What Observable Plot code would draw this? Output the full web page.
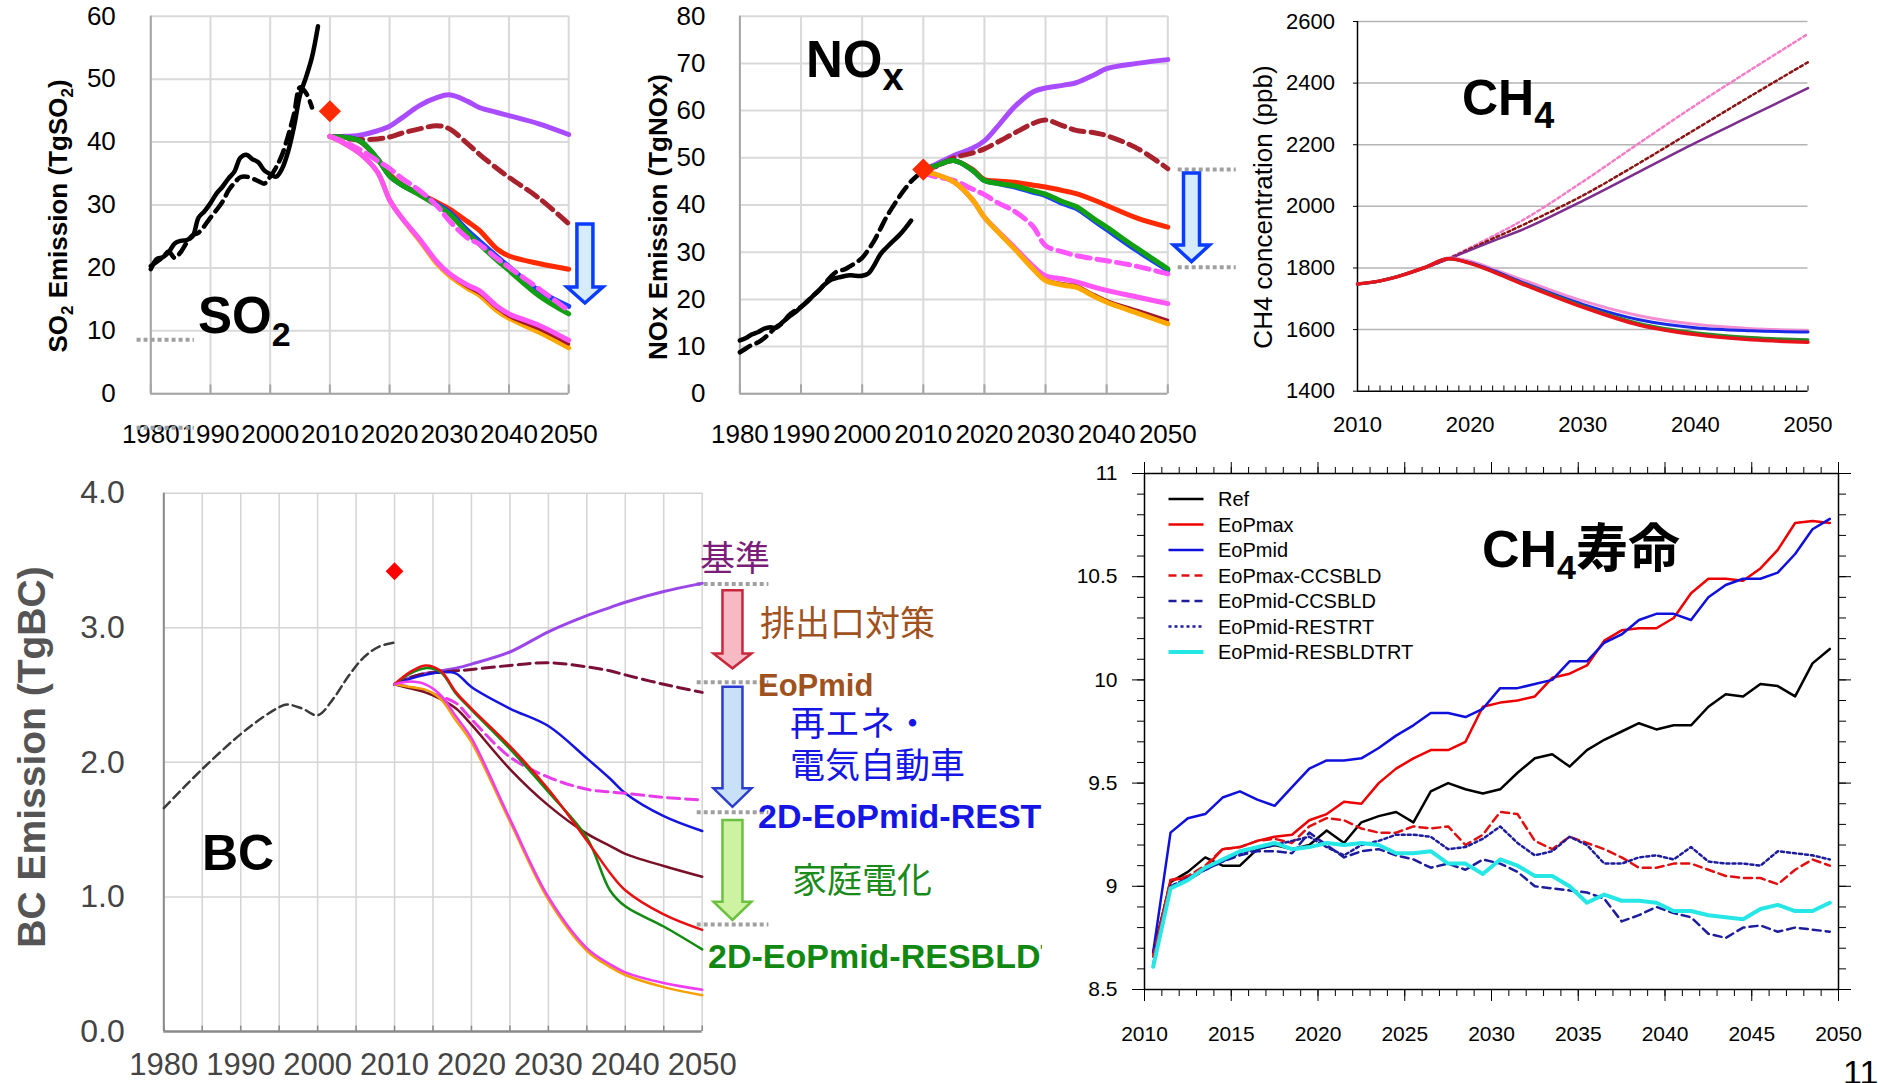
<!DOCTYPE html>
<html>
<head>
<meta charset="utf-8">
<script src="https://cdn.jsdelivr.net/npm/d3@7"></script>
<script src="https://cdn.jsdelivr.net/npm/@observablehq/plot@0.6"></script>
<style>
html,body{margin:0;padding:0;background:#fff;}
#root{position:relative;width:1878px;height:1083px;overflow:hidden;background:#fff;}
</style>
</head>
<body>
<div id="root"></div>
<script>
// ======================= DATA =======================
const decadeTicks = [1980, 1990, 2000, 2010, 2020, 2030, 2040, 2050];
const so2Ticks = [0, 10, 20, 30, 40, 50, 60];
const noxTicks = [0, 10, 20, 30, 40, 50, 60, 70, 80];
const futureYears = [2010, 2012, 2015, 2018, 2020, 2022, 2025, 2028, 2030, 2033, 2035, 2038, 2040, 2045, 2050];

// --- SO2 (TgSO2) ---
const so2HistYears = [1980,1981,1982,1983,1984,1985,1986,1987,1988,1989,1990,1991,1992,1993,1994,1995,1996,1997,1998,1999,2000,2001,2002,2003,2004,2005,2006,2007,2008];
const so2HistSolid = [19.8,21.4,21.7,22.5,23.9,24.3,24.4,25.0,28.0,29.0,30.3,31.8,32.9,34.2,35.3,37.5,38.0,37.3,36.8,35.5,34.9,34.5,35.8,38.5,42.5,47.5,50.3,53.5,58.4];
const so2HistDashYears = [1980,1982,1983,1984,1985,1986,1987,1988,1990,1992,1993,1994,1995,1996,1997,1998,1999,2000,2001,2002,2003,2004,2005,2006,2007];
const so2HistDash = [20.3,21.7,22.6,21.6,22.5,24.0,25.2,25.6,28.0,30.5,32.3,33.5,34.4,34.5,34.2,33.8,33.4,34.5,36.0,38.0,41.0,44.5,48.7,47.8,45.5];
const so2Inventory2010 = [44.9];
const so2Purple  = [40.9,40.9,41.1,41.8,42.5,43.8,45.8,47.1,47.5,46.5,45.5,44.7,44.2,42.9,41.2];
const so2EoPDash = [40.9,40.6,40.4,40.5,40.8,41.4,42.1,42.6,42.1,39.8,38.1,35.8,34.4,31.1,27.0];
const so2Red     = [40.9,40.8,40.1,37.3,34.9,33.3,31.8,30.4,29.4,27.4,26.0,23.0,21.9,20.7,19.8];
const so2Blue    = [40.9,40.8,40.2,37.3,34.6,33.2,31.7,30.1,28.9,26.0,24.3,21.8,20.2,16.4,13.9];
const so2Green   = [40.9,40.8,40.2,37.3,34.6,33.2,31.6,29.9,28.6,25.6,23.8,21.2,19.6,15.6,12.7];
const so2MagDash = [40.9,40.2,38.8,37.0,35.8,34.3,32.3,29.8,27.5,24.8,23.8,21.5,20.1,16.7,13.2];
const so2Orange  = [40.9,40.0,38.2,35.2,30.8,28.0,24.4,20.6,18.8,16.8,15.7,13.2,12.0,9.8,7.3];
const so2DarkRed = [40.9,40.0,38.2,35.2,30.8,28.0,24.5,20.8,19.0,17.0,16.0,13.6,12.3,10.3,7.9];
const so2Magenta = [40.9,40.0,38.2,35.2,30.8,28.0,24.6,20.9,19.1,17.3,16.4,13.9,12.7,10.9,8.5];
const so2GuideLevels = [8.6, -5.4];
const so2Arrow = {x: 2052.8, top: 26.9, head: 16.9, tip: 14.35};

// --- NOx (TgNOx) ---
const noxHistYears = [1980,1981,1982,1983,1984,1985,1986,1987,1988,1989,1990,1991,1992,1993,1994,1995,1996,1997,1998,1999,2000,2001,2002,2003,2004,2005,2006,2007,2008];
const noxHistSolid = [11.3,11.8,12.6,13.1,13.8,14.1,14.0,15.2,16.3,17.2,18.4,19.5,20.8,22.0,23.3,24.2,24.6,24.9,25.1,25.0,25.0,25.5,27.3,29.6,31.0,32.3,33.5,35.0,36.7];
const noxHistDashYears = [1980,1981,1982,1983,1984,1985,1986,1987,1988,1989,1990,1991,1992,1993,1994,1995,1996,1997,1998,1999,2000,2001,2002,2003,2004,2005,2006,2007,2008,2009];
const noxHistDash = [8.8,9.6,10.4,10.9,11.8,13.0,14.2,15.0,16.6,17.6,18.4,19.6,20.8,22.0,23.5,25.0,26.0,26.3,27.0,27.8,28.8,30.5,32.5,35.0,37.5,39.6,41.6,43.4,45.0,46.2];
const noxInventory2010 = [47.5];
const noxPurple  = [47.5,48.6,50.5,52.0,53.6,56.4,60.9,64.0,64.8,65.4,65.9,67.6,68.9,70.0,70.8];
const noxEoPDash = [47.5,48.1,50.0,51.0,51.9,53.2,55.3,57.3,58.0,56.7,55.8,55.3,54.7,52.0,47.7];
const noxRed     = [47.5,48.3,49.4,47.6,45.4,45.1,44.8,44.2,43.8,43.0,42.4,41.0,39.9,37.2,35.3];
const noxBlue    = [47.5,48.3,49.4,47.4,45.2,44.6,43.8,42.7,42.0,40.2,39.3,36.6,34.8,30.3,26.2];
const noxGreen   = [47.5,48.3,49.4,47.4,45.2,44.6,44.0,43.0,42.3,40.6,39.7,37.0,35.3,30.8,26.5];
const noxMagDash = [46.8,46.0,45.2,43.4,42.2,40.6,38.6,35.4,31.4,30.0,29.3,28.6,28.2,27.0,25.4];
const noxMagenta = [47.0,46.5,44.9,41.2,37.4,34.7,30.9,27.0,25.0,24.3,23.7,22.6,21.9,20.5,19.1];
const noxDarkRed = [47.0,46.5,44.9,41.2,37.4,34.6,30.6,26.5,24.2,23.3,22.9,21.0,19.8,17.7,15.6];
const noxOrange  = [47.0,46.5,44.9,41.2,37.4,34.6,30.6,26.4,24.0,23.0,22.6,20.6,19.4,17.1,14.8];
const noxGuideLevels = [47.5, 26.8];
const noxArrow = {x: 2053.96, top: 46.67, head: 31.4, tip: 27.9};

// --- CH4 concentration (ppb) ---
const ch4Ticks = [1400, 1600, 1800, 2000, 2200, 2400, 2600];
const ch4XTicks = [2010, 2020, 2030, 2040, 2050];
const ch4Years = [2010, 2012, 2014, 2016, 2018, 2020, 2022, 2025, 2030, 2035, 2040, 2045, 2050];
const ch4Purple = [1748,1758,1777,1800,1828,1858,1887,1930,2018,2112,2206,2295,2384];
const ch4Red    = [1748,1758,1777,1802,1830,1815,1788,1743,1673,1615,1584,1567,1559];
const ch4Green  = [1748,1758,1777,1802,1830,1815,1789,1745,1676,1620,1590,1574,1567];
const ch4Blue   = [1748,1758,1777,1802,1830,1817,1792,1748,1682,1632,1606,1596,1592];
const ch4Pink   = [1748,1758,1777,1802,1832,1822,1797,1757,1693,1645,1617,1603,1597];
const ch4DotYears = [2016, 2018, 2020, 2022, 2025, 2030, 2035, 2040, 2045, 2050];
const ch4PinkDot  = [1800,1830,1866,1903,1962,2080,2205,2328,2445,2560];
const ch4BrownDot = [1800,1829,1862,1895,1945,2035,2140,2250,2360,2468];

// --- BC (TgBC) ---
const bcTicks = [0, 1, 2, 3, 4];
const bcGridYears = [1980,1985,1990,1995,2000,2005,2010,2015,2020,2025,2030,2035,2040,2045,2050];
const bcHistYears = [1980,1985,1990,1993,1995,1996,1998,2000,2002,2004,2006,2008,2010];
const bcHist = [1.66,1.95,2.21,2.34,2.41,2.43,2.40,2.35,2.47,2.64,2.78,2.86,2.89];
const bcInventory2010 = [3.42];
const bcYears = [2010,2012,2014,2016,2018,2020,2025,2030,2035,2038,2040,2045,2050];
const bcPurple  = [2.58,2.63,2.66,2.68,2.70,2.73,2.82,2.97,3.09,3.15,3.19,3.27,3.33];
const bcEoPDash = [2.58,2.63,2.66,2.67,2.68,2.69,2.72,2.74,2.71,2.68,2.65,2.58,2.52];
const bcBlue    = [2.58,2.62,2.65,2.67,2.66,2.56,2.40,2.27,2.03,1.88,1.77,1.60,1.49];
const bcMagDash = [2.58,2.56,2.53,2.49,2.44,2.32,2.04,1.89,1.80,1.78,1.77,1.74,1.72];
const bcDarkRed = [2.58,2.55,2.52,2.47,2.40,2.28,1.95,1.68,1.47,1.38,1.32,1.23,1.15];
const bcRed     = [2.58,2.67,2.72,2.68,2.52,2.40,2.12,1.80,1.42,1.18,1.05,0.87,0.755];
const bcGreen   = [2.58,2.66,2.70,2.67,2.51,2.39,2.10,1.78,1.44,1.05,0.93,0.78,0.61];
const bcOrange  = [2.58,2.56,2.54,2.47,2.31,2.15,1.56,0.98,0.60,0.48,0.42,0.33,0.27];
const bcMagenta = [2.58,2.60,2.58,2.50,2.34,2.18,1.58,1.00,0.62,0.50,0.44,0.36,0.31];
const bcGuideLevels = [3.326, 2.595, 1.629, 0.795];
const bcArrows = [
  {x: 2054, top: 3.276, head: 2.806, tip: 2.695, key: "pink"},
  {x: 2054, top: 2.558, head: 1.803, tip: 1.666, key: "blue"},
  {x: 2054, top: 1.568, head: 0.961, tip: 0.825, key: "green"}
];

// --- CH4 lifetime (years) ---
const ltXTicks = [2010, 2015, 2020, 2025, 2030, 2035, 2040, 2045, 2050];
const ltYTicks = [8.5, 9, 9.5, 10, 10.5, 11];
const ltYears = d3.range(40).map(i => 2010.5 + i);
const ltNames = ["Ref", "EoPmax", "EoPmid", "EoPmax-CCSBLD", "EoPmid-CCSBLD", "EoPmid-RESTRT", "EoPmid-RESBLDTRT"];
const ltRef = [8.68,9.02,9.07,9.14,9.10,9.10,9.18,9.20,9.18,9.20,9.27,9.21,9.31,9.34,9.36,9.31,9.46,9.50,9.47,9.45,9.47,9.55,9.62,9.64,9.58,9.66,9.71,9.75,9.79,9.76,9.78,9.78,9.87,9.93,9.92,9.98,9.97,9.92,10.08,10.15];
const ltEoPmax = [8.66,9.03,9.04,9.09,9.18,9.19,9.22,9.24,9.25,9.32,9.35,9.41,9.40,9.50,9.57,9.62,9.66,9.66,9.70,9.87,9.89,9.90,9.92,10.01,10.03,10.07,10.19,10.24,10.25,10.25,10.30,10.42,10.49,10.49,10.48,10.54,10.63,10.76,10.77,10.76];
const ltEoPmid = [8.68,9.26,9.33,9.35,9.43,9.46,9.42,9.39,9.48,9.57,9.61,9.61,9.62,9.67,9.73,9.78,9.84,9.84,9.82,9.86,9.96,9.96,9.98,10.00,10.09,10.09,10.18,10.22,10.29,10.32,10.32,10.29,10.40,10.46,10.49,10.49,10.52,10.61,10.73,10.78];
const ltEoPmaxCCS = [8.66,9.03,9.05,9.10,9.18,9.19,9.22,9.23,9.21,9.29,9.33,9.32,9.28,9.26,9.26,9.29,9.28,9.29,9.20,9.25,9.36,9.35,9.22,9.18,9.24,9.21,9.18,9.14,9.09,9.09,9.11,9.11,9.08,9.05,9.04,9.04,9.01,9.08,9.13,9.10];
const ltEoPmidCCS = [8.62,9.00,9.03,9.08,9.12,9.15,9.17,9.17,9.16,9.26,9.20,9.14,9.17,9.18,9.15,9.13,9.09,9.11,9.08,9.13,9.11,9.07,9.00,8.99,8.98,8.97,8.94,8.83,8.86,8.90,8.87,8.85,8.77,8.75,8.80,8.81,8.78,8.80,8.79,8.78];
const ltEoPmidRES = [8.62,9.00,9.04,9.08,9.12,9.16,9.18,9.20,9.22,9.24,9.19,9.15,9.20,9.22,9.25,9.25,9.24,9.18,9.19,9.23,9.29,9.21,9.15,9.17,9.24,9.20,9.11,9.11,9.14,9.15,9.13,9.19,9.12,9.11,9.11,9.10,9.17,9.16,9.15,9.13];
const ltEoPmidRESBLD = [8.61,8.99,9.03,9.09,9.13,9.17,9.19,9.21,9.18,9.19,9.21,9.20,9.21,9.20,9.16,9.16,9.17,9.11,9.11,9.06,9.13,9.10,9.05,9.05,9.00,8.92,8.96,8.93,8.93,8.92,8.88,8.88,8.86,8.85,8.84,8.89,8.91,8.88,8.88,8.92];
const ltSeriesValues = [ltRef, ltEoPmax, ltEoPmid, ltEoPmaxCCS, ltEoPmidCCS, ltEoPmidRES, ltEoPmidRESBLD];

// ======================= STYLES =======================
const FONT = "'Liberation Sans', Arial, sans-serif";
const CJK = "'Noto Sans CJK JP', 'Noto Sans CJK SC', sans-serif";
const emis = {
  histSolid: {c: "#000", w: 4.5},
  histDash: {c: "#000", w: 4.5, d: "12,7"},
  purple: {c: "#a94cff", w: 5},
  eopDash: {c: "#a8222e", w: 5, d: "13,7"},
  red: {c: "#ff2a00", w: 5},
  blue: {c: "#1a40ff", w: 5},
  green: {c: "#12a012", w: 5},
  magDash: {c: "#ff55ff", w: 5, d: "13,7"},
  darkRed: {c: "#a01830", w: 3},
  orange: {c: "#ffa800", w: 5},
  magenta: {c: "#ff55f5", w: 5}
};
const ch4S = {
  purple: {c: "#7d2d8c", w: 2.5},
  pinkDot: {c: "#f27ec8", w: 2.5, d: "3,3"},
  brownDot: {c: "#8a1414", w: 2.5, d: "3,3"},
  red: {c: "#e8141c", w: 3.5},
  green: {c: "#2a8a2a", w: 3},
  blue: {c: "#1a2ae6", w: 3},
  pink: {c: "#f28fd2", w: 3}
};
const bcS = {
  hist: {c: "#3a3a3a", w: 2.5, d: "9,5"},
  purple: {c: "#9a46e8", w: 3},
  eopDash: {c: "#7a1038", w: 3, d: "12,6"},
  blue: {c: "#1414e0", w: 2.5},
  magDash: {c: "#e83ce8", w: 3, d: "12,6"},
  darkRed: {c: "#7a1026", w: 2.5},
  red: {c: "#e81010", w: 2.5},
  green: {c: "#108a10", w: 2.5},
  orange: {c: "#f5a000", w: 2.5},
  magenta: {c: "#f03cf0", w: 2.5}
};
const ltS = [
  {c: "#000000", w: 2.5},
  {c: "#ee0000", w: 2.5},
  {c: "#1010dd", w: 2.5},
  {c: "#e01010", w: 2.5, d: "8,5"},
  {c: "#1c1c9c", w: 2.5, d: "8,5"},
  {c: "#1c1c9c", w: 2.5, d: "3,3"},
  {c: "#27e6e6", w: 4}
];
const arrowS = {
  emis: {fill: "#d6ecfc", stroke: "#0a3cff", sw: 3.5, shaft: 16, headW: 36},
  pink: {fill: "#f7bac4", stroke: "#c8283c", sw: 2.5, shaft: 20, headW: 38},
  blue: {fill: "#c8e0f8", stroke: "#2a3cd0", sw: 2.5, shaft: 20, headW: 38},
  green: {fill: "#cdf2a2", stroke: "#6cc040", sw: 2.5, shaft: 20, headW: 38}
};

// ======================= HELPERS =======================
const root = document.getElementById("root");
const rows = (xs, ys) => xs.map((x, i) => ({x, y: ys[i]}));
function line(xs, ys, st, curve = "catmull-rom") {
  return Plot.line(rows(xs, ys), {x: "x", y: "y", stroke: st.c, strokeWidth: st.w,
    strokeDasharray: st.d, curve, strokeLinejoin: "round"});
}
function place(svg, left, top) {
  svg.style.position = "absolute";
  svg.style.left = left + "px";
  svg.style.top = top + "px";
  svg.style.overflow = "visible";
  svg.style.background = "none";
  svg.style.maxWidth = "none";
  root.appendChild(svg);
  return d3.select(svg);
}
function scaleFn(plot, name) {
  const s = plot.scale(name);
  if (s && typeof s.apply === "function") return v => s.apply(v);
  const [d0, d1] = s.domain, [r0, r1] = s.range;
  return v => r0 + (v - d0) / (d1 - d0) * (r1 - r0);
}
function blockArrow(sel, plot, a, st) {
  const X = scaleFn(plot, "x"), Y = scaleFn(plot, "y");
  const cx = X(a.x), t = Y(a.top), h = Y(a.head), p = Y(a.tip);
  const s = st.shaft / 2, hw = st.headW / 2;
  const pts = [[cx - s, t], [cx + s, t], [cx + s, h], [cx + hw, h], [cx, p], [cx - hw, h], [cx - s, h]];
  sel.append("polygon").attr("points", pts.map(q => q.join(",")).join(" "))
    .attr("fill", st.fill).attr("stroke", st.stroke).attr("stroke-width", st.sw).attr("stroke-linejoin", "miter");
}
function subText(sel, x, y, parts, opts = {}) {
  const t = sel.append("text").attr("x", x).attr("y", y)
    .attr("font-family", opts.family || FONT).attr("font-weight", opts.weight || "bold")
    .attr("fill", opts.fill || "#000").attr("text-anchor", opts.anchor || "start");
  if (opts.transform) t.attr("transform", opts.transform).attr("x", 0).attr("y", 0);
  let shift = 0;
  for (const p of parts) {
    const ts = t.append("tspan").text(p.t).attr("font-size", p.s);
    const target = p.dy || 0;
    if (target !== shift) { ts.attr("dy", target - shift); shift = target; }
    if (p.family) ts.attr("font-family", p.family);
  }
  return t;
}

// ======================= SO2 / NOx PANELS =======================
function emissionPanel(cfg) {
  return Plot.plot({
    width: cfg.width, height: 450,
    marginLeft: cfg.ml, marginRight: cfg.mr, marginTop: 15.7, marginBottom: 56.7,
    style: {fontFamily: FONT, fontSize: "26px", color: "#000", background: "none"},
    x: {domain: [1980, 2050], label: null},
    y: {domain: cfg.ydomain, label: null},
    marks: [
      Plot.ruleX(decadeTicks, {stroke: "#d9d9d9", strokeWidth: 2}),
      Plot.ruleY(cfg.yticks, {stroke: "#d9d9d9", strokeWidth: 2}),
      Plot.ruleX([1980], {stroke: "#a6a6a6", strokeWidth: 2}),
      Plot.ruleY([cfg.ydomain[0]], {stroke: "#a6a6a6", strokeWidth: 2}),
      Plot.ruleX(decadeTicks, {y1: () => 0, y2: () => cfg.tick, stroke: "#a6a6a6", strokeWidth: 2}),
      Plot.axisX(decadeTicks, {tickSize: 0, tickPadding: 31, tickFormat: d => String(d), label: null}),
      Plot.axisY(cfg.yticks, {tickSize: 0, tickPadding: cfg.ypad, label: null}),
      Plot.ruleY(cfg.guides, {y: d => d, x1: () => cfg.guideX[0], x2: () => cfg.guideX[1], stroke: "#a0a0a0", strokeWidth: 4, strokeDasharray: "4,3"}),
      ...cfg.lines,
      Plot.dot(cfg.inv, {x: () => 2010, y: d => d, symbol: "diamond2", r: 10, fill: "#ff2a00"})
    ]
  });
}

const so2Plot = emissionPanel({
  width: 620, ml: 150.3, mr: 51.8, ydomain: [0, 60], yticks: so2Ticks, ypad: 35, tick: 1.4,
  guides: so2GuideLevels, guideX: [1977.7, 1987.3], inv: so2Inventory2010,
  lines: [
    line(so2HistYears, so2HistSolid, emis.histSolid),
    line(so2HistDashYears, so2HistDash, emis.histDash),
    line(futureYears, so2Purple, emis.purple),
    line(futureYears, so2EoPDash, emis.eopDash),
    line(futureYears, so2Red, emis.red),
    line(futureYears, so2Blue, emis.blue),
    line(futureYears, so2Green, emis.green),
    line(futureYears, so2MagDash, emis.magDash),
    line(futureYears, so2Orange, emis.orange),
    line(futureYears, so2DarkRed, emis.darkRed),
    line(futureYears, so2Magenta, emis.magenta)
  ]
});
const so2Sel = place(so2Plot, 0, 0);
blockArrow(so2Sel, so2Plot, so2Arrow, arrowS.emis);
subText(so2Sel, 0, 0, [{t: "SO", s: 26}, {t: "2", s: 17, dy: 6}, {t: " Emission (TgSO", s: 26}, {t: "2", s: 17, dy: 6}, {t: ")", s: 26}],
  {transform: "translate(67,216) rotate(-90)", anchor: "middle"});
subText(so2Sel, 198, 333, [{t: "SO", s: 51}, {t: "2", s: 34, dy: 13}]);

const noxPlot = emissionPanel({
  width: 620, ml: 119.4, mr: 72.7, ydomain: [0, 80], yticks: noxTicks, ypad: 34.4, tick: 1.9,
  guides: noxGuideLevels, guideX: [2051.7, 2061.2], inv: noxInventory2010,
  lines: [
    line(noxHistYears, noxHistSolid, emis.histSolid),
    line(noxHistDashYears, noxHistDash, emis.histDash),
    line(futureYears, noxPurple, emis.purple),
    line(futureYears, noxEoPDash, emis.eopDash),
    line(futureYears, noxRed, emis.red),
    line(futureYears, noxBlue, emis.blue),
    line(futureYears, noxGreen, emis.green),
    line(futureYears, noxMagDash, emis.magDash),
    line(futureYears, noxMagenta, emis.magenta),
    line(futureYears, noxDarkRed, emis.darkRed),
    line(futureYears, noxOrange, emis.orange)
  ]
});
const noxSel = place(noxPlot, 620, 0);
blockArrow(noxSel, noxPlot, noxArrow, arrowS.emis);
subText(noxSel, 0, 0, [{t: "NOx Emission (TgNOx)", s: 26}], {transform: "translate(47,217) rotate(-90)", anchor: "middle"});
subText(noxSel, 186, 77, [{t: "NO", s: 51}, {t: "x", s: 38, dy: 13}]);

// ======================= CH4 CONCENTRATION PANEL =======================
const ch4Plot = Plot.plot({
  width: 638, height: 450, marginLeft: 117, marginRight: 70.5, marginTop: 21, marginBottom: 59.3,
  style: {fontFamily: FONT, fontSize: "22px", color: "#000", background: "none"},
  x: {domain: [2010, 2050], label: null},
  y: {domain: [1400, 2600], label: null},
  marks: [
    Plot.ruleY(ch4Ticks.slice(1), {stroke: "#b4b4b4", strokeWidth: 1.5}),
    Plot.ruleX(d3.range(2010, 2051), {y1: () => 1400, y2: () => 1417, stroke: "#000", strokeWidth: 1}),
    Plot.ruleX([2010], {stroke: "#000", strokeWidth: 1.5}),
    Plot.ruleY([1400], {stroke: "#000", strokeWidth: 1.5}),
    Plot.axisX(ch4XTicks, {tickSize: 0, tickPadding: 25, tickFormat: d => String(d), label: null}),
    Plot.axisY(ch4Ticks, {tickSize: 4, tickPadding: 18.6, tickFormat: d => String(d), label: null}),
    line(ch4DotYears, ch4PinkDot, ch4S.pinkDot),
    line(ch4DotYears, ch4BrownDot, ch4S.brownDot),
    line(ch4Years, ch4Purple, ch4S.purple),
    line(ch4Years, ch4Pink, ch4S.pink),
    line(ch4Years, ch4Blue, ch4S.blue),
    line(ch4Years, ch4Green, ch4S.green),
    line(ch4Years, ch4Red, ch4S.red)
  ]
});
const ch4Sel = place(ch4Plot, 1240, 0);
subText(ch4Sel, 0, 0, [{t: "CH4 concentration (ppb)", s: 26}], {transform: "translate(32,207) rotate(-90)", anchor: "middle", weight: "normal"});
subText(ch4Sel, 222, 115, [{t: "CH", s: 50}, {t: "4", s: 36, dy: 13}]);

// ======================= BC PANEL =======================
const bcPlot = Plot.plot({
  width: 1060, height: 633, marginLeft: 163.3, marginRight: 358.3, marginTop: 42.7, marginBottom: 52,
  style: {fontFamily: FONT, fontSize: "31px", color: "#444", background: "none"},
  x: {domain: [1980, 2050], label: null},
  y: {domain: [0, 4], label: null},
  marks: [
    Plot.ruleX(bcGridYears, {stroke: "#d4d4d4", strokeWidth: 1.5}),
    Plot.ruleY(bcTicks.slice(1), {stroke: "#d4d4d4", strokeWidth: 1.5}),
    Plot.ruleX([1980], {stroke: "#8a8a8a", strokeWidth: 2}),
    Plot.ruleY([0], {stroke: "#8a8a8a", strokeWidth: 2.5}),
    Plot.ruleX(bcGridYears, {y1: () => 0, y2: () => 0.04, stroke: "#8a8a8a", strokeWidth: 1.5}),
    Plot.axisX(decadeTicks, {tickSize: 0, tickPadding: 21, tickFormat: d => String(d), label: null}),
    Plot.axisY(bcTicks, {tickSize: 0, tickPadding: 39, tickFormat: d3.format(".1f"), label: null, fontSize: 32}),
    Plot.ruleY(bcGuideLevels, {y: d => d, x1: () => 2049.35, x2: () => 2058.67, stroke: "#a0a0a0", strokeWidth: 4, strokeDasharray: "4,3"}),
    line(bcHistYears, bcHist, bcS.hist),
    line(bcYears, bcPurple, bcS.purple),
    line(bcYears, bcEoPDash, bcS.eopDash),
    line(bcYears, bcBlue, bcS.blue),
    line(bcYears, bcMagDash, bcS.magDash),
    line(bcYears, bcDarkRed, bcS.darkRed),
    line(bcYears, bcGreen, bcS.green),
    line(bcYears, bcRed, bcS.red),
    line(bcYears, bcOrange, bcS.orange),
    line(bcYears, bcMagenta, bcS.magenta),
    Plot.dot(bcInventory2010, {x: () => 2010, y: d => d, symbol: "diamond2", r: 8, fill: "#ff0000"})
  ]
});
const bcSel = place(bcPlot, 0, 450);
for (const a of bcArrows) blockArrow(bcSel, bcPlot, a, arrowS[a.key]);
subText(bcSel, 0, 0, [{t: "BC Emission (TgBC)", s: 39}], {transform: "translate(45,307) rotate(-90)", anchor: "middle", fill: "#555"});
subText(bcSel, 202, 420, [{t: "BC", s: 50}]);
bcSel.append("defs").append("clipPath").attr("id", "bcClip").append("rect").attr("x", 0).attr("y", 0).attr("width", 1042).attr("height", 633);
subText(bcSel, 700, 121, [{t: "基準", s: 35}], {family: CJK, weight: "normal", fill: "#7a1e7a"});
subText(bcSel, 760, 186, [{t: "排出口対策", s: 35}], {family: CJK, weight: "normal", fill: "#a0521e"});
subText(bcSel, 758, 246, [{t: "EoPmid", s: 31}], {fill: "#a0521e"});
// two-line label: 再エネ・ / 電気自動車
const reneT = bcSel.append("text").attr("font-family", CJK).attr("font-size", 35).attr("fill", "#1515e6").attr("text-anchor", "start");
reneT.append("tspan").attr("x", 790).attr("y", 286).text("再エネ・");
reneT.append("tspan").attr("x", 790).attr("dy", 42).text("電気自動車");
subText(bcSel, 758, 378, [{t: "2D-EoPmid-REST", s: 34}], {fill: "#1515e6"});
subText(bcSel, 792, 443, [{t: "家庭電化", s: 35}], {family: CJK, weight: "normal", fill: "#1a8a1a"});
subText(bcSel, 708, 518, [{t: "2D-EoPmid-RESBLDTRT", s: 34}], {fill: "#118811"}).attr("clip-path", "url(#bcClip)");

// ======================= CH4 LIFETIME PANEL =======================
const ltMinorY = d3.range(85, 111).map(v => v / 10);
const ltMinorX = d3.range(2010, 2051);
const ltPlot = Plot.plot({
  width: 818, height: 633, marginLeft: 84, marginRight: 40, marginTop: 23, marginBottom: 94,
  style: {fontFamily: FONT, fontSize: "21px", color: "#000", background: "none"},
  x: {domain: [2010, 2050], label: null},
  y: {domain: [8.5, 11], label: null},
  marks: [
    Plot.axisX(ltXTicks, {anchor: "bottom", tickSize: 12, tickPadding: 25, tickFormat: d => String(d), label: null}),
    Plot.axisX(ltMinorX, {anchor: "bottom", tickSize: 7, tickFormat: () => "", label: null}),
    Plot.axisX(ltXTicks, {anchor: "top", tickSize: 12, tickFormat: () => "", label: null}),
    Plot.axisX(ltMinorX, {anchor: "top", tickSize: 7, tickFormat: () => "", label: null}),
    Plot.axisY(ltYTicks, {anchor: "left", tickSize: 12, tickPadding: 15, tickFormat: d => String(d), label: null}),
    Plot.axisY(ltMinorY, {anchor: "left", tickSize: 7, tickFormat: () => "", label: null}),
    Plot.axisY(ltYTicks, {anchor: "right", tickSize: 12, tickFormat: () => "", label: null}),
    Plot.axisY(ltMinorY, {anchor: "right", tickSize: 7, tickFormat: () => "", label: null}),
    Plot.frame({stroke: "#000", strokeWidth: 1.5}),
    ...ltSeriesValues.map((vals, i) => line(ltYears, vals, ltS[i], "linear"))
  ]
});
const ltSel = place(ltPlot, 1060, 450);
ltNames.forEach((name, i) => {
  const yy = 49 + i * 25.5;
  const st = ltS[i];
  ltSel.append("line").attr("x1", 108.5).attr("x2", 143.5).attr("y1", yy).attr("y2", yy)
    .attr("stroke", st.c).attr("stroke-width", st.w).attr("stroke-dasharray", st.d || null);
  ltSel.append("text").attr("x", 158).attr("y", yy).attr("dy", "0.35em").attr("text-anchor", "start")
    .attr("font-family", FONT).attr("font-size", 20).attr("fill", "#000").text(name);
});
subText(ltSel, 422, 117, [{t: "CH", s: 52}, {t: "4", s: 34, dy: 12}, {t: "寿命", s: 52, dy: 0, family: CJK}]);
subText(ltSel, 783, 634, [{t: "11", s: 34}], {weight: "normal"});
</script>
</body>
</html>
